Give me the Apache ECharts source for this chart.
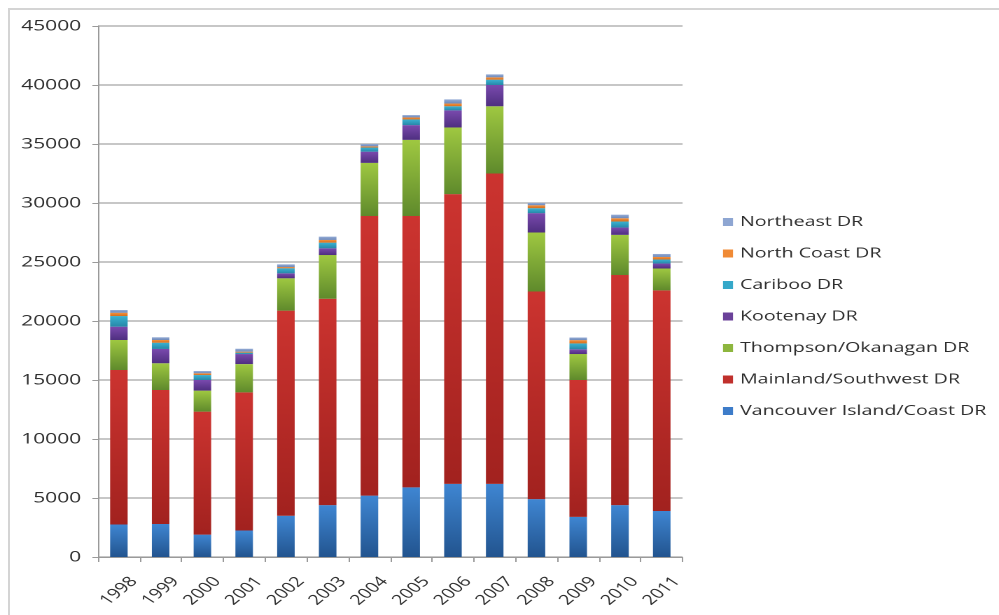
<!DOCTYPE html>
<html>
<head>
<meta charset="utf-8">
<title>Stacked bars by development region, 1998–2011</title>
<script src="https://cdn.jsdelivr.net/npm/echarts@6/dist/echarts.min.js"></script>
<style>
  html, body { margin: 0; padding: 0; background: #ffffff; overflow: hidden; }
  #frame {
    position: absolute; left: 8px; top: 8px; width: 1100px; height: 700px;
    border: 2px solid #d4d4d4; box-sizing: border-box;
  }
  #chart {
    position: absolute; left: 0; top: 0; height: 615px;
    transform-origin: 0 0;
  }
</style>
</head>
<body>
<div id="frame"></div>
<div id="chart"></div>
<script>
// Horizontal stretch of the rendered chart (wide lettering look)
const STRETCH = 1.4;
const PAGE_W = 999;

const years = ['1998','1999','2000','2001','2002','2003','2004','2005','2006','2007','2008','2009','2010','2011'];

const vancouverIsland = [2750, 2800, 1900, 2250, 3500, 4400, 5200, 5900, 6200, 6200, 4900, 3400, 4400, 3900];
const mainlandSouthwest = [13100, 11350, 10420, 11700, 17380, 17490, 23700, 23000, 24550, 26300, 17600, 11600, 19500, 18700];
const thompsonOkanagan = [2540, 2270, 1780, 2400, 2740, 3700, 4500, 6450, 5650, 5700, 5000, 2200, 3400, 1850];
const kootenay = [1130, 1210, 900, 850, 420, 570, 950, 1250, 1450, 1800, 1640, 400, 620, 420];
const cariboo = [900, 530, 420, 120, 430, 480, 350, 480, 350, 450, 420, 500, 510, 340];
const northCoast = [280, 230, 150, 80, 100, 230, 100, 170, 230, 200, 250, 280, 280, 220];
const northeast = [230, 230, 190, 250, 230, 280, 200, 200, 350, 250, 200, 220, 300, 250];

const seriesNames = [
  'Vancouver Island/Coast DR',
  'Mainland/Southwest DR',
  'Thompson/Okanagan DR',
  'Kootenay DR',
  'Cariboo DR',
  'North Coast DR',
  'Northeast DR'
];
const seriesValues = [vancouverIsland, mainlandSouthwest, thompsonOkanagan, kootenay, cariboo, northCoast, northeast];

// [top, bottom] gradient stops per region
const palette = [
  ['#3f86d2', '#22548f'],
  ['#cc3430', '#a2221f'],
  ['#9fc841', '#5f8a2c'],
  ['#7a4aae', '#4f2f80'],
  ['#3bb2d2', '#2788a8'],
  ['#f6923c', '#d46f1e'],
  ['#95acd6', '#6d88b8']
];
const legendColors = ['#3d7cc9', '#c0302c', '#8db63e', '#6a4199', '#35a8c9', '#f08a35', '#8ea6d2'];

const el = document.getElementById('chart');
el.style.width = (PAGE_W / STRETCH) + 'px';
el.style.transform = 'scaleX(' + STRETCH + ')';

const chart = echarts.init(el, null, { renderer: 'canvas', devicePixelRatio: 2 });

const sx = v => v / STRETCH;

const series = seriesNames.map((name, i) => ({
  name: name,
  type: 'bar',
  stack: 'total',
  barWidth: '42%',
  data: seriesValues[i],
  itemStyle: {
    color: new echarts.graphic.LinearGradient(0, 0, 0, 1, [
      { offset: 0, color: palette[i][0] },
      { offset: 1, color: palette[i][1] }
    ])
  },
  emphasis: { disabled: true }
}));

chart.setOption({
  animation: false,
  textStyle: { fontFamily: 'Open Sans' },
  grid: { left: sx(98), right: (PAGE_W - 682) / STRETCH, top: 26, bottom: 58, containLabel: false },
  legend: {
    orient: 'vertical',
    left: sx(716),
    top: 210,
    itemWidth: sx(10),
    itemHeight: 8,
    itemGap: 17.5,
    icon: 'rect',
    data: seriesNames.slice().reverse().map((n) => ({
      name: n,
      itemStyle: { color: legendColors[seriesNames.indexOf(n)] }
    })),
    textStyle: { color: '#2e2e2e', fontSize: 14, padding: [0, 0, 0, 0] },
    selectedMode: false
  },
  xAxis: {
    type: 'category',
    data: years,
    axisLine: { lineStyle: { color: '#9a9a9a', width: 1 } },
    axisTick: { show: true, length: 5, lineStyle: { color: '#9a9a9a' } },
    axisLabel: {
      rotate: 48, color: '#2e2e2e', fontSize: 14, margin: 34,
      align: 'center', verticalAlign: 'middle'
    }
  },
  yAxis: {
    type: 'value',
    min: 0,
    max: 45000,
    interval: 5000,
    axisLine: { show: true, lineStyle: { color: '#9a9a9a', width: 1 } },
    axisTick: { show: true, length: 4, lineStyle: { color: '#9a9a9a' } },
    axisLabel: { color: '#2e2e2e', fontSize: 15, margin: 12, formatter: v => String(v) },
    splitLine: { lineStyle: { color: '#b4b4b4', width: 1.5 } }
  },
  series: series
});
</script>
</body>
</html>
